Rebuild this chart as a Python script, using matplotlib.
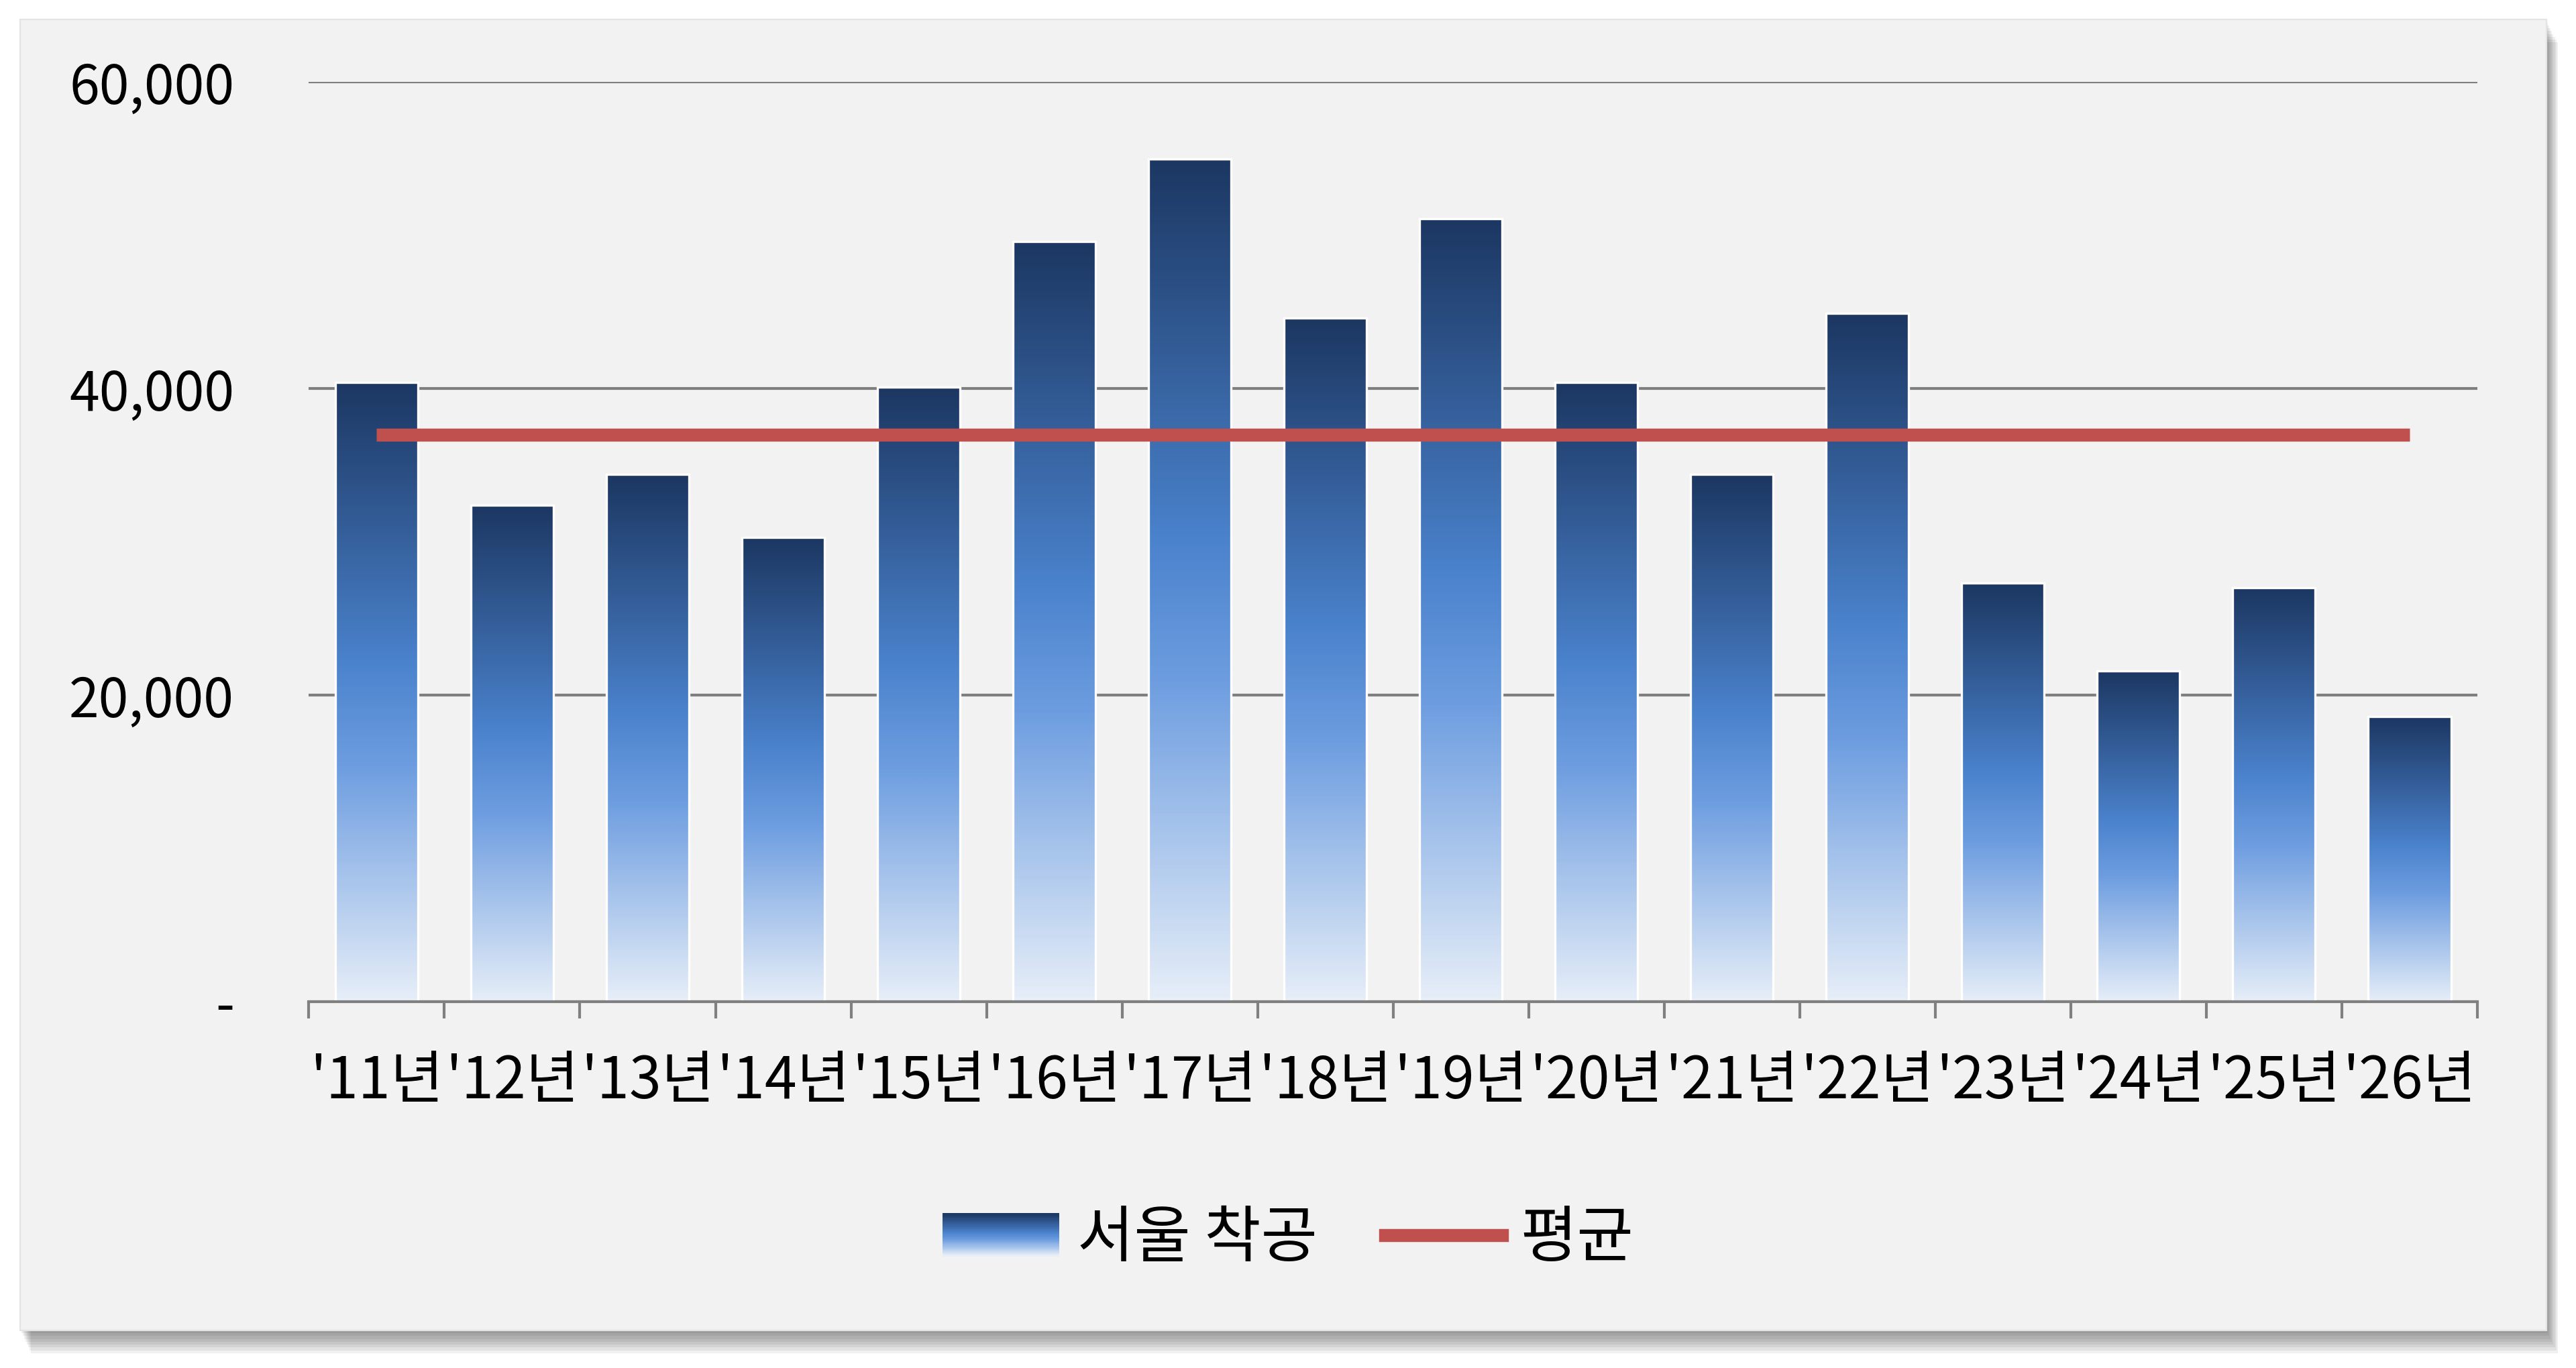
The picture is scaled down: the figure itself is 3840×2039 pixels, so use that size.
import matplotlib
matplotlib.use("Agg")
import matplotlib.pyplot as plt
import numpy as np
from matplotlib.colors import LinearSegmentedColormap
from matplotlib.legend_handler import HandlerBase
from matplotlib.patches import Rectangle
from matplotlib.lines import Line2D
from matplotlib.ticker import FixedLocator, FuncFormatter

plt.rcParams["font.family"] = ["Noto Sans CJK KR", "DejaVu Sans"]

years = ["'11년", "'12년", "'13년", "'14년", "'15년", "'16년", "'17년", "'18년",
         "'19년", "'20년", "'21년", "'22년", "'23년", "'24년", "'25년", "'26년"]
seoul_starts = [40400, 32400, 34400, 30300, 40100, 49600, 55000, 44600,
                51100, 40400, 34400, 44900, 27300, 21600, 27000, 18600]
average = [37000] * len(years)
y_ticks = [0, 20000, 40000, 60000]

bar_cmap = LinearSegmentedColormap.from_list(
    "bar", [(0.0, "#1c3762"), (0.45, "#4a82cc"), (0.62, "#6d9de0"), (1.0, "#e6eef8")])
panel_color = "#f2f2f2"
avg_color = "#c0504d"
grid_color = "#7f7f7f"


class GradientHandler(HandlerBase):
    def create_artists(self, legend, orig_handle, xdescent, ydescent,
                       width, height, fontsize, trans):
        arts = []
        n = 30
        for i in range(n):
            c = bar_cmap(i / (n - 1))
            arts.append(Rectangle((-xdescent, -ydescent + height * (1 - (i + 1) / n)),
                                  width, height / n + 0.3, facecolor=c,
                                  edgecolor="none", transform=trans))
        return arts


fig = plt.figure(figsize=(19.2, 10.195), dpi=200, facecolor="white")

# panel with drop shadow
px0, py0, px1, py1 = 0.0077, 0.0276, 0.9885, 0.9856
for k in range(8, 0, -1):
    d = k * 0.0011
    fig.patches.append(Rectangle((px0 + d * 0.5, py0 - d * 1.9), (px1 - px0), (py1 - py0),
                                 transform=fig.transFigure, facecolor="black",
                                 alpha=0.06, edgecolor="none", zorder=-3))
fig.patches.append(Rectangle((px0, py0), px1 - px0, py1 - py0, transform=fig.transFigure,
                             facecolor=panel_color, edgecolor="#e4e4e4", lw=0.8, zorder=-2))

ax = fig.add_axes([0.1199, 0.2677, 0.9617 - 0.1199, 0.94 - 0.2677])
ax.set_facecolor("none")
x = np.arange(len(years))

bars = ax.bar(x, seoul_starts, width=0.61, facecolor="none", edgecolor="white",
              linewidth=1.2, zorder=3)
grad = np.linspace(0, 1, 256).reshape(-1, 1)
for b in bars:
    bx, by, bw, bh = b.get_x(), b.get_y(), b.get_width(), b.get_height()
    im = ax.imshow(grad, cmap=bar_cmap, aspect="auto", extent=(bx, bx + bw, by, by + bh),
                   origin="upper", zorder=2, interpolation="bilinear")
    im.set_clip_path(b)
ax.set_xlim(-0.5, len(years) - 0.5)
ax.set_ylim(0, 60000)

ax.plot(x, average, color=avg_color, lw=7, solid_capstyle="butt", zorder=4)

ax.yaxis.set_major_locator(FixedLocator(y_ticks))
ax.yaxis.set_major_formatter(FuncFormatter(lambda v, p: "-" if v == 0 else f"{v:,.0f}"))
ax.grid(axis="y", color=grid_color, lw=1.5, zorder=1)
ax.set_axisbelow(True)
for s in ["left", "right", "top"]:
    ax.spines[s].set_visible(False)
ax.spines["bottom"].set_color("#808080")
ax.spines["bottom"].set_linewidth(1.5)
ax.spines["bottom"].set_zorder(5)

ax.set_xticks(x)
ax.set_xticklabels(years)
ax.set_xticks(np.arange(-0.5, len(years)), minor=True)
ax.tick_params(axis="x", which="major", length=0, pad=27, labelsize=31, colors="black")
ax.tick_params(axis="x", which="minor", length=9, width=1.5, color="#808080")
ax.tick_params(axis="y", length=0, pad=40, labelsize=29)

leg_handles = [Rectangle((0, 0), 1, 1), Line2D([], [], color=avg_color, lw=7)]
fig.legend(leg_handles, ["서울 착공", "평균"], loc="center", bbox_to_anchor=(0.5, 0.094),
           ncol=2, frameon=False, fontsize=33, handlelength=1.9, handletextpad=0.3,
           columnspacing=1.1, handler_map={Rectangle: GradientHandler()})

fig.savefig("out.png", dpi=200, facecolor="white")
